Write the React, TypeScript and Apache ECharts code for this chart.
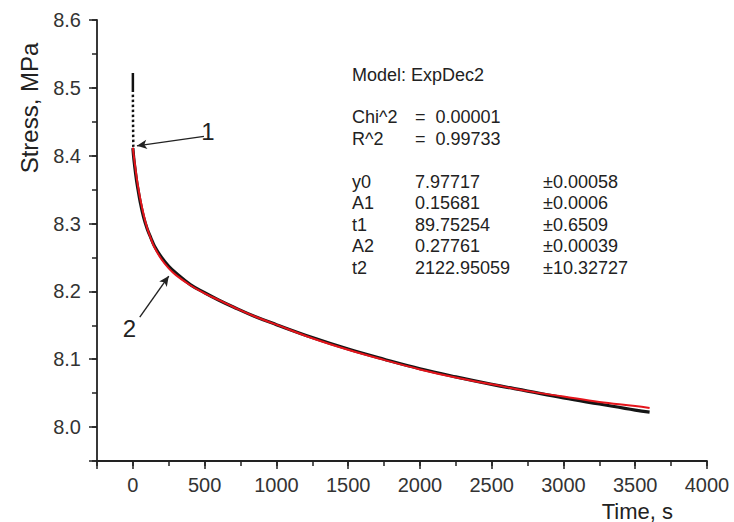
import React, { useEffect, useRef } from "react";
import * as echarts from "echarts";

// ---- data ----
const timeS = [0, 5, 10, 25, 35, 50, 75, 100, 125, 150, 200, 250, 300, 400, 500, 600, 700, 850, 1000, 1250, 1500, 1750, 2000, 2250, 2500, 2750, 3000, 3250, 3500, 3600];
const measuredStress = [8.411, 8.399, 8.389, 8.364, 8.351, 8.333, 8.309, 8.292, 8.279, 8.267, 8.250, 8.237, 8.227, 8.210, 8.198, 8.187, 8.177, 8.163, 8.151, 8.132, 8.115, 8.100, 8.086, 8.074, 8.063, 8.053, 8.043, 8.034, 8.025, 8.022];
const fitStress = [8.412, 8.402, 8.394, 8.370, 8.356, 8.338, 8.313, 8.293, 8.278, 8.265, 8.247, 8.234, 8.224, 8.209, 8.197, 8.187, 8.177, 8.163, 8.151, 8.131, 8.114, 8.099, 8.085, 8.073, 8.063, 8.053, 8.045, 8.037, 8.031, 8.028];

// loading stage at the very start (solid piece then dotted drop)
const loadSolidTime = [0, 0];
const loadSolidStress = [8.522, 8.494];
const loadDotTime = [0, 1, 3];
const loadDotStress = [8.490, 8.450, 8.413];

const xTicksMajor = 500;
const yTicksMajor = 0.1;

const modelTitle = "Model: ExpDec2";
const statNames = ["Chi^2", "R^2"];
const statValues = ["=  0.00001", "=  0.99733"];
const paramNames = ["y0", "A1", "t1", "A2", "t2"];
const paramValues = ["7.97717", "0.15681", "89.75254", "0.27761", "2122.95059"];
const paramErrors = ["±0.00058", "±0.0006", "±0.6509", "±0.00039", "±10.32727"];

// annotation arrows in data coordinates: [tailX, tailY, headX, headY]
const arrow1 = [495, 8.4285, 28, 8.4145];
const arrow2 = [48, 8.162, 250, 8.2225];
const label1 = [522, 8.436];
const label2 = [-24, 8.146];

const FONT = "Liberation Sans, Arial, Helvetica, sans-serif";
const INK = "#222";

export default function App() {
  const ref = useRef<HTMLDivElement>(null);
  useEffect(() => {
    document.body.style.margin = "0";
    const chart = echarts.init(ref.current!, undefined, { renderer: "svg" });

    const pair = (xs: number[], ys: number[]) => xs.map((x, i) => [x, ys[i]]);

    const graphics: any[] = [];
    const tx = (text: string, x: number, y: number, size = 18) => ({
      type: "text",
      x,
      y,
      silent: true,
      style: { text, fontSize: size, fontFamily: FONT, fill: INK, textAlign: "left", textVerticalAlign: "middle" },
    });
    graphics.push(tx(modelTitle, 352, 75));
    statNames.forEach((n, i) => {
      graphics.push(tx(n, 352, 117 + i * 21.5));
      graphics.push(tx(statValues[i], 415, 117 + i * 21.5));
    });
    paramNames.forEach((n, i) => {
      const y = 182 + i * 21.4;
      graphics.push(tx(n, 352, y));
      graphics.push(tx(paramValues[i], 415, y));
      graphics.push(tx(paramErrors[i], 543, y));
    });
    graphics.push({
      type: "text",
      x: 29,
      y: 108,
      rotation: Math.PI / 2,
      silent: true,
      style: { text: "Stress, MPa", fontSize: 24, fontFamily: FONT, fill: INK, textAlign: "center", textVerticalAlign: "middle" },
    });
    graphics.push({
      type: "text",
      x: 673,
      y: 511,
      silent: true,
      style: { text: "Time, s", fontSize: 22, fontFamily: FONT, fill: INK, textAlign: "right", textVerticalAlign: "middle" },
    });

    const baseAxisLabel = { fontSize: 20, fontFamily: FONT, color: "#333" };

    chart.setOption({
      animation: false,
      backgroundColor: "#fff",
      grid: { left: 97, right: 27, top: 20, bottom: 61, containLabel: false, outerBoundsMode: "none" },
      xAxis: [
        {
          type: "value",
          min: -250,
          max: 4000,
          interval: 250,
          axisLine: { show: true, onZero: false, lineStyle: { color: INK, width: 1.8 } },
          axisTick: { show: true, length: 5, lineStyle: { color: INK, width: 1.5 } },
          axisLabel: {
            ...baseAxisLabel,
            margin: 14,
            formatter: (v: number) => (Math.round(v) % xTicksMajor === 0 ? String(Math.round(v)) : ""),
          },
          splitLine: { show: false },
        },
        {
          type: "value",
          min: -250,
          max: 4000,
          minInterval: xTicksMajor,
          maxInterval: xTicksMajor,
          position: "bottom",
          axisLine: { show: false, onZero: false },
          axisTick: { show: true, length: 8, lineStyle: { color: INK, width: 1.5 } },
          axisLabel: { show: false },
          splitLine: { show: false },
        },
      ],
      yAxis: [
        {
          type: "value",
          min: 7.95,
          max: 8.6,
          interval: 0.05,
          axisLine: { show: true, onZero: false, lineStyle: { color: INK, width: 1.8 } },
          axisTick: { show: true, length: 5, lineStyle: { color: INK, width: 1.5 } },
          axisLabel: {
            ...baseAxisLabel,
            margin: 16,
            formatter: (v: number) => {
              const k = Math.round(v * 100);
              return k % 10 === 0 ? (k / 100).toFixed(1) : "";
            },
          },
          splitLine: { show: false },
        },
        {
          type: "value",
          min: 7.95,
          max: 8.6,
          minInterval: yTicksMajor,
          maxInterval: yTicksMajor,
          position: "left",
          axisLine: { show: false, onZero: false },
          axisTick: { show: true, length: 8, lineStyle: { color: INK, width: 1.5 } },
          axisLabel: { show: false },
          splitLine: { show: false },
        },
      ],
      graphic: graphics,
      series: [
        {
          name: "loading",
          type: "line",
          data: pair(loadSolidTime, loadSolidStress),
          showSymbol: false,
          lineStyle: { color: "#111", width: 2.5 },
          silent: true,
        },
        {
          name: "loading-dotted",
          type: "line",
          data: pair(loadDotTime, loadDotStress),
          showSymbol: false,
          lineStyle: { color: "#111", width: 2.5, type: [2.5, 2.5] },
          silent: true,
        },
        {
          name: "measured",
          type: "line",
          data: pair(timeS, measuredStress),
          showSymbol: false,
          smooth: 0.4,
          lineStyle: { color: "#151515", width: 3.2 },
          silent: true,
        },
        {
          name: "fit",
          type: "line",
          data: pair(timeS, fitStress),
          showSymbol: false,
          smooth: 0.4,
          lineStyle: { color: "#e5141b", width: 2 },
          silent: true,
          markLine: {
            silent: true,
            symbol: ["none", "arrow"],
            symbolSize: [7, 10],
            label: { show: false },
            lineStyle: { color: INK, width: 1.4, type: "solid" },
            data: [
              [{ coord: [arrow1[0], arrow1[1]] }, { coord: [arrow1[2], arrow1[3]] }],
              [{ coord: [arrow2[0], arrow2[1]] }, { coord: [arrow2[2], arrow2[3]] }],
            ],
          },
          markPoint: {
            silent: true,
            symbol: "rect",
            symbolSize: 1,
            itemStyle: { color: "rgba(0,0,0,0)" },
            label: {
              show: true,
              position: "inside",
              formatter: (p: any) => p.name,
              fontSize: 24,
              fontFamily: FONT,
              color: INK,
            },
            data: [
              { name: "1", coord: label1 },
              { name: "2", coord: label2 },
            ],
          },
        },
      ],
    });
    return () => chart.dispose();
  }, []);
  return <div ref={ref} style={{ width: 734, height: 522 }} />;
}
